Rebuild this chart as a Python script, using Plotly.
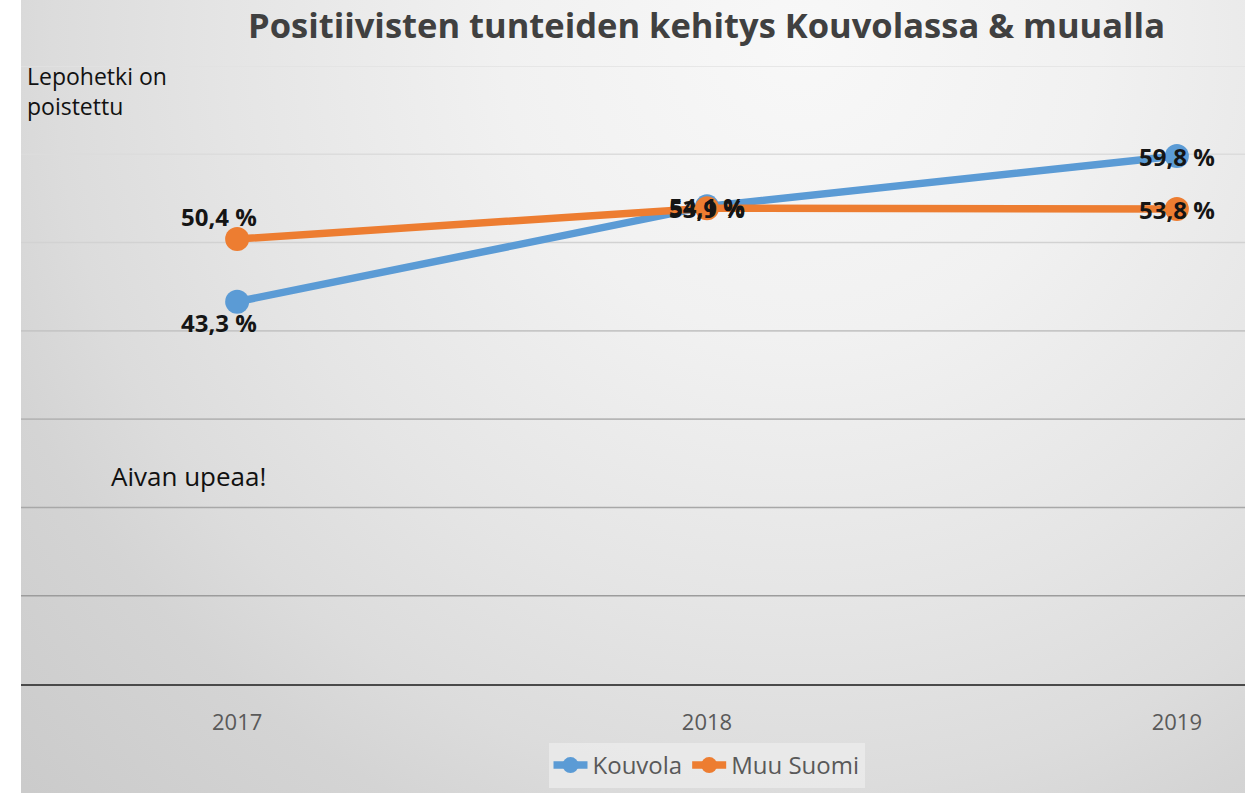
import base64
import plotly.graph_objects as go

# ---- data ----
years = ["2017", "2018", "2019"]
kouvola = [43.3, 54.1, 59.8]
muu_suomi = [50.4, 53.9, 53.8]
series_names = ["Kouvola", "Muu Suomi"]
y_ticks = [10, 20, 30, 40, 50, 60, 70]
title_text = "Positiivisten tunteiden kehitys Kouvolassa & muualla"
note_top = "Lepohetki on<br>poistettu"
note_mid = "Aivan upeaa!"

# ---- style ----
colors = ["#5b9bd5", "#ed7d31"]
grid_colors = ["#9c9c9c", "#a8a8a8", "#b6b6b6", "#c6c6c6", "#d2d2d2", "#dcdcdc", "#e2e2e2"]
# label shifts (px) per series per point
label_xshift = [[-18, 0, 0], [-18, 0, 0]]
label_yshift = [[-21, 0, 0], [23, 0, 0]]

W, H = 1256, 793
L, R, T, B = 21, 11, 66, 109
plot_h = H - T - B
plot_w = W - L - R

fig = go.Figure()
for name, vals, col in zip(series_names, [kouvola, muu_suomi], colors):
    fig.add_trace(go.Scatter(
        x=years, y=vals, name=name, mode="lines+markers",
        line=dict(color=col, width=7.5),
        marker=dict(color=col, size=24, symbol="circle"),
        hoverinfo="skip",
    ))

annotations = []
for si, vals in enumerate([kouvola, muu_suomi]):
    for pi, v in enumerate(vals):
        annotations.append(dict(
            x=pi, y=v, xref="x", yref="y",
            text=f"{v:.1f} %".replace(".", ","),
            showarrow=False, xanchor="center", yanchor="middle",
            xshift=label_xshift[si][pi], yshift=label_yshift[si][pi],
            font=dict(family="Open Sans", size=24, color="#151515", weight="bold"),
        ))

annotations.append(dict(
    text=title_text, xref="paper", yref="paper",
    x=(706.5 - L) / plot_w, y=(H - B - 24) / plot_h,
    xanchor="center", yanchor="middle", showarrow=False,
    font=dict(family="Open Sans", size=34.5, color="#404040", weight="bold"),
))
annotations.append(dict(
    text=note_top, xref="paper", yref="paper",
    x=(25 - L) / plot_w, y=(H - B - 58) / plot_h,
    xanchor="left", yanchor="top", align="left", showarrow=False,
    font=dict(family="Open Sans", size=23, color="#111111"),
))
annotations.append(dict(
    text=note_mid, xref="paper", yref="paper",
    x=(109 - L) / plot_w, y=(H - B - 476) / plot_h,
    xanchor="left", yanchor="middle", showarrow=False,
    font=dict(family="Open Sans", size=26, color="#111111"),
))

shapes = []
for tv, gc in zip(y_ticks, grid_colors):
    shapes.append(dict(type="line", xref="paper", yref="y", x0=0, x1=1, y0=tv, y1=tv,
                       line=dict(color=gc, width=1.6), layer="below"))

svg = '''<svg xmlns="http://www.w3.org/2000/svg" width="1224" height="793" viewBox="0 0 1224 793" preserveAspectRatio="none">
<defs><radialGradient id="g" cx="780" cy="40" r="1100" gradientUnits="userSpaceOnUse">
<stop offset="0" stop-color="#f8f8f8"/>
<stop offset="0.27" stop-color="#f1f1f1"/>
<stop offset="0.52" stop-color="#e5e5e5"/>
<stop offset="0.68" stop-color="#dcdcdc"/>
<stop offset="0.78" stop-color="#d4d4d4"/>
<stop offset="0.98" stop-color="#cbcbcb"/>
</radialGradient></defs>
<rect x="0" y="0" width="1224" height="793" fill="url(#g)"/></svg>'''
src = "data:image/svg+xml;base64," + base64.b64encode(svg.encode()).decode()

legend_bg = "rgba(236,236,236,0.75)"
fig.update_layout(
    width=W, height=H,
    margin=dict(l=L, r=R, t=T, b=B, pad=0, autoexpand=False),
    paper_bgcolor="white", plot_bgcolor="rgba(0,0,0,0)",
    showlegend=True,
    legend=dict(
        orientation="h", xref="paper", yref="paper",
        x=(706.5 - L) / plot_w, xanchor="center",
        y=(H - B - 743) / plot_h, yanchor="top",
        bgcolor=legend_bg, borderwidth=0,
        font=dict(family="Open Sans", size=24, color="#595959"),
        itemwidth=34, tracegroupgap=0,
    ),
    images=[dict(source=src, xref="paper", yref="paper", x=0, y=1 + T / plot_h,
                 sizex=1, sizey=H / plot_h, xanchor="left", yanchor="top",
                 sizing="stretch", layer="below")],
    annotations=annotations,
    shapes=shapes,
    xaxis=dict(type="category", range=[-0.46, 2.145], showgrid=False, zeroline=False,
               showline=True, linecolor="#4a4a4a", linewidth=2,
               ticks="", ticklabelstandoff=18,
               tickfont=dict(family="Open Sans", size=22, color="#595959")),
    yaxis=dict(range=[0, 70], showgrid=False, zeroline=False, showticklabels=False,
               showline=False),
)

fig.write_html("out.html", config={"displayModeBar": False},
               post_script="document.body.style.margin='0';document.body.style.overflow='hidden';")
